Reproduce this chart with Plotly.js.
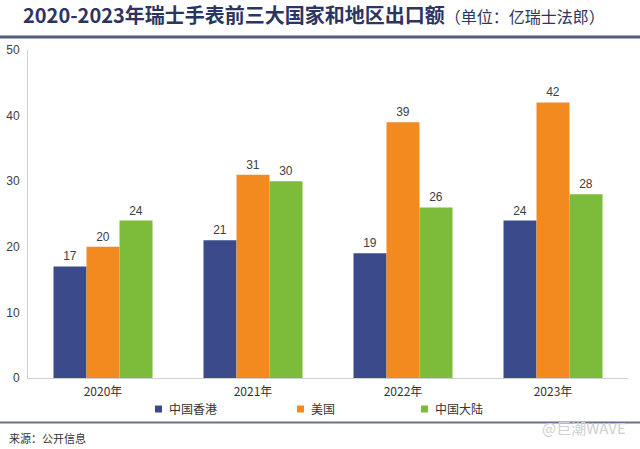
<!DOCTYPE html>
<html>
<head>
<meta charset="utf-8">
<script src="https://cdn.plot.ly/plotly-3.0.1.min.js"></script>
<style>html,body{margin:0;padding:0;background:#fff;}#chart{width:640px;height:449px;}</style>
</head>
<body>
<div id="chart"></div>
<script>
const years = ['2020年', '2021年', '2022年', '2023年'];
const hongKong = [17, 21, 19, 24];
const usa = [20, 31, 39, 42];
const mainland = [24, 30, 26, 28];
const seriesNames = ['中国香港', '美国', '中国大陆'];
const yTicks = [0, 10, 20, 30, 40, 50];

const W = 640, H = 449;
const M = {l: 28, r: 12, t: 50, b: 71};
const pw = W - M.l - M.r, ph = H - M.t - M.b;
const px = x => (x - M.l) / pw;
const py = y => (H - M.b - y) / ph;

const FONT = 'Liberation Sans, Arial, Noto Sans CJK SC, sans-serif';
const CJK = 'Noto Sans CJK SC, sans-serif';
const colors = ['#3b4a8b', '#f28a20', '#7cbc3a'];
const values = [hongKong, usa, mainland];

const traces = values.map((v, i) => ({
  type: 'bar',
  name: seriesNames[i],
  x: years,
  y: v,
  marker: {color: colors[i]},
  text: v.map(String),
  textposition: 'outside',
  cliponaxis: false,
  textfont: {family: FONT, size: 12, color: '#404040'},
  hoverinfo: 'skip',
  showlegend: false
}));

// custom legend (small squares + labels), placed like the reference
const legendSquareX = [155, 297, 421];
const legendY = 409;
const legendShapes = seriesNames.map((n, i) => ({
  type: 'rect', xref: 'paper', yref: 'paper',
  x0: px(legendSquareX[i]), x1: px(legendSquareX[i] + 7),
  y0: py(legendY + 3.5), y1: py(legendY - 3.5),
  fillcolor: colors[i], line: {width: 0}
}));
const legendLabels = seriesNames.map((n, i) => ({
  text: n, xref: 'paper', yref: 'paper',
  x: px(legendSquareX[i] + 12), y: py(legendY - 1),
  xanchor: 'left', yanchor: 'middle', showarrow: false,
  font: {family: CJK, size: 12, color: '#333333'}
}));

const layout = {
  width: W, height: H,
  margin: M,
  paper_bgcolor: '#ffffff',
  plot_bgcolor: '#ffffff',
  barmode: 'group',
  bargap: 0.34,
  bargroupgap: 0,
  showlegend: false,
  title: {
    text: '<b>2020-2023年瑞士手表前三大国家和地区出口额</b><span style="font-size:16px">（单位：亿瑞士法郎）</span>',
    font: {family: CJK, size: 20, color: '#2c3562'},
    x: 23 / W, xanchor: 'left', xref: 'container',
    y: 1 - 16 / H, yanchor: 'middle', yref: 'container'
  },
  xaxis: {
    type: 'category',
    showline: true, linecolor: '#d0d0d0', linewidth: 1,
    showgrid: false, ticks: '', zeroline: false,
    tickfont: {family: CJK, size: 12, color: '#333333'},
    ticklabelstandoff: 3
  },
  yaxis: {
    range: [0, 50],
    tickvals: yTicks,
    showline: true, linecolor: '#d0d0d0', linewidth: 1,
    showgrid: false, ticks: '', zeroline: false,
    tickfont: {family: FONT, size: 12, color: '#404040'},
    ticklabelstandoff: 5
  },
  shapes: [
    {type: 'line', xref: 'paper', yref: 'paper', x0: px(0), x1: px(640), y0: py(37), y1: py(37),
     line: {color: '#555d7e', width: 3}},
    {type: 'line', xref: 'paper', yref: 'paper', x0: px(0), x1: px(640), y0: py(422.5), y1: py(422.5),
     line: {color: '#6a7190', width: 2}}
  ].concat(legendShapes),
  annotations: [
    {text: '来源：公开信息', xref: 'paper', yref: 'paper', x: px(7), y: py(438),
     xanchor: 'left', yanchor: 'middle', showarrow: false,
     font: {family: CJK, size: 11, color: '#333333'}},
    {text: '@巨潮WAVE', xref: 'paper', yref: 'paper', x: px(628), y: py(427),
     xanchor: 'right', yanchor: 'middle', showarrow: false,
     font: {family: CJK, size: 15, color: '#d0d0d0'}}
  ].concat(legendLabels)
};

Plotly.newPlot('chart', traces, layout, {displayModeBar: false, staticPlot: true});
</script>
</body>
</html>
